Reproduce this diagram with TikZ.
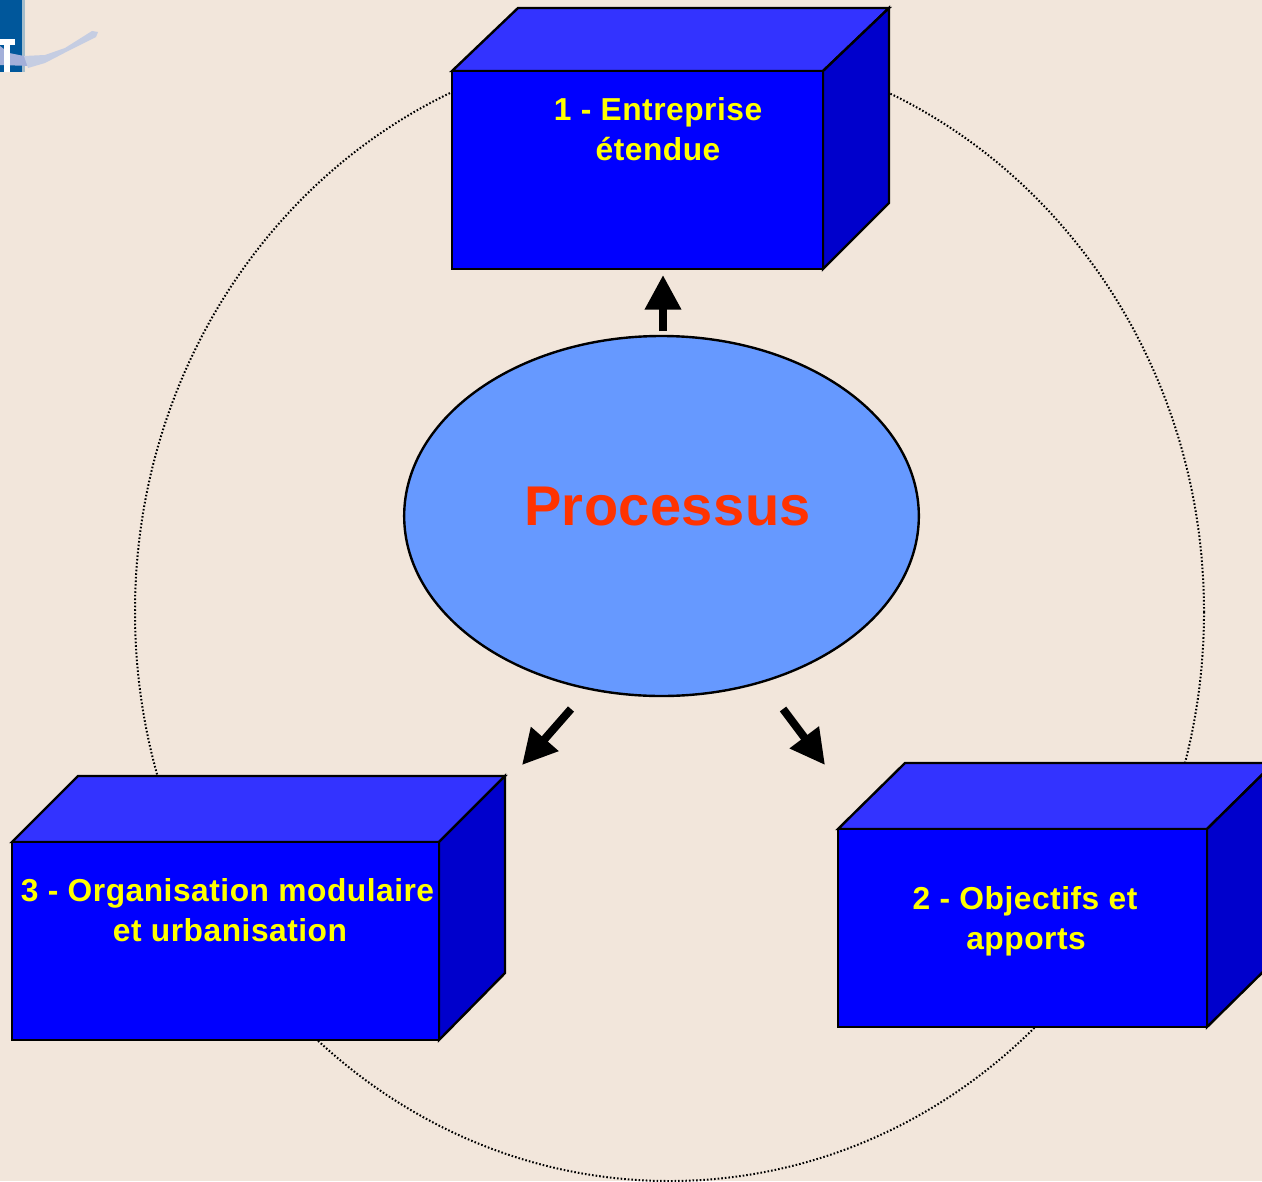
\documentclass[tikz,border=0pt]{standalone}
\usepackage{fontspec}
\setmainfont{Liberation Sans}
\newfontfamily\boxfont[LetterSpace=1.6]{Liberation Sans}
\newfontfamily\procfont[LetterSpace=0.8]{Liberation Sans}
\usetikzlibrary{arrows.meta,shapes.geometric}
\definecolor{bgc}{HTML}{F2E6DB}
\definecolor{frontc}{HTML}{0000FF}
\definecolor{topc}{HTML}{3333FF}
\definecolor{sidec}{HTML}{0000CC}
\definecolor{procc}{HTML}{6699FF}
\definecolor{proct}{HTML}{FF3300}
\definecolor{txtc}{HTML}{FFFF00}
\definecolor{logoc}{HTML}{00579B}
\definecolor{logoe}{HTML}{A3BCCB}
\definecolor{swoosh}{HTML}{A3AFD9}
\definecolor{swooshb}{HTML}{C5CDE2}
\tikzset{
  x=0.75pt,y=-0.75pt,
  face/.style={draw=black,line width=1.8pt,line join=miter},
  boxlabel/.style={font=\boxfont\fontsize{23.8pt}{30pt}\selectfont\bfseries,text=txtc,inner sep=0pt,anchor=base},
  flow/.style={line width=6pt,-{Triangle[length=26pt,width=26pt]}},
  orbit/.style={draw=black,line width=1.5pt,dash pattern=on 1.2pt off 1.5pt}
}
\newcommand{\blockshape}[7]{% x0 y0 x1 y1 dx dy sidedrop
  \fill[face,fill=topc] (#1,#2) -- ++(#5,-#6) -- (#3+#5,#2-#6) -- (#3,#2) -- cycle;
  \fill[face,fill=sidec] (#3,#2) -- (#3+#5,#2-#6) -- (#3+#5,#4-#7) -- (#3,#4) -- cycle;
  \fill[face,fill=frontc] (#1,#2) rectangle (#3,#4);
}
\begin{document}
\begin{tikzpicture}
\clip (0,0) rectangle (1262,1181);
\fill[bgc] (0,0) rectangle (1262,1181);
% logo fragment
\fill[logoe] (0,0) rectangle (25,72);
\fill[logoc] (0,0) rectangle (22,72);
\fill[swoosh] (0,46) -- (9,53) -- (24,56) -- (45,58) -- (60,52) -- (45,60) -- (30,66) -- (0,65) -- cycle;
\fill[swooshb] (24,56) -- (45,55) -- (65,48) -- (92,31) -- (98,32) -- (96,37) -- (70,50) -- (45,63) -- (28,68) -- cycle;
\fill[white] (0,39) rectangle (15,45);
\fill[white] (4,45) rectangle (10,72);
% orbit
\draw[orbit] (669.5,612) ellipse [x radius=534.5, y radius=569];
% blocks
\blockshape{452}{71}{823}{269}{66}{63}{66}
\blockshape{838}{829}{1207}{1027}{67}{66}{66}
\blockshape{12}{842}{439}{1040}{66}{66}{67}
% centre
\node[ellipse,draw=black,line width=1.8pt,fill=procc,minimum width=386pt,minimum height=270pt,inner sep=0pt] (proc) at (661.5,516) {};
\node[font=\procfont\fontsize{42pt}{50pt}\selectfont\bfseries,text=proct,inner sep=0pt,anchor=base] (proclabel) at (667.5,525) {Processus};
% labels
\node[boxlabel] (b1a) at (658,120) {1 - Entreprise};
\node[boxlabel] (b1b) at (658,160) {étendue};
\node[boxlabel] (b2a) at (1025,909) {2 - Objectifs et};
\node[boxlabel] (b2b) at (1026,949) {apports};
\node[boxlabel] (b3a) at (227.5,901) {3 - Organisation modulaire};
\node[boxlabel] (b3b) at (230,941) {et urbanisation};
% connectors
\coordinate (upstart) at (663,331);
\coordinate (upend) at (663,275);
\coordinate (lstart) at (571,709);
\coordinate (lend) at (522,765);
\coordinate (rstart) at (783,709);
\coordinate (rend) at (825,765);
\draw[flow] (upstart) -- (upend);
\draw[flow] (lstart) -- (lend);
\draw[flow] (rstart) -- (rend);
\end{tikzpicture}
\end{document}
